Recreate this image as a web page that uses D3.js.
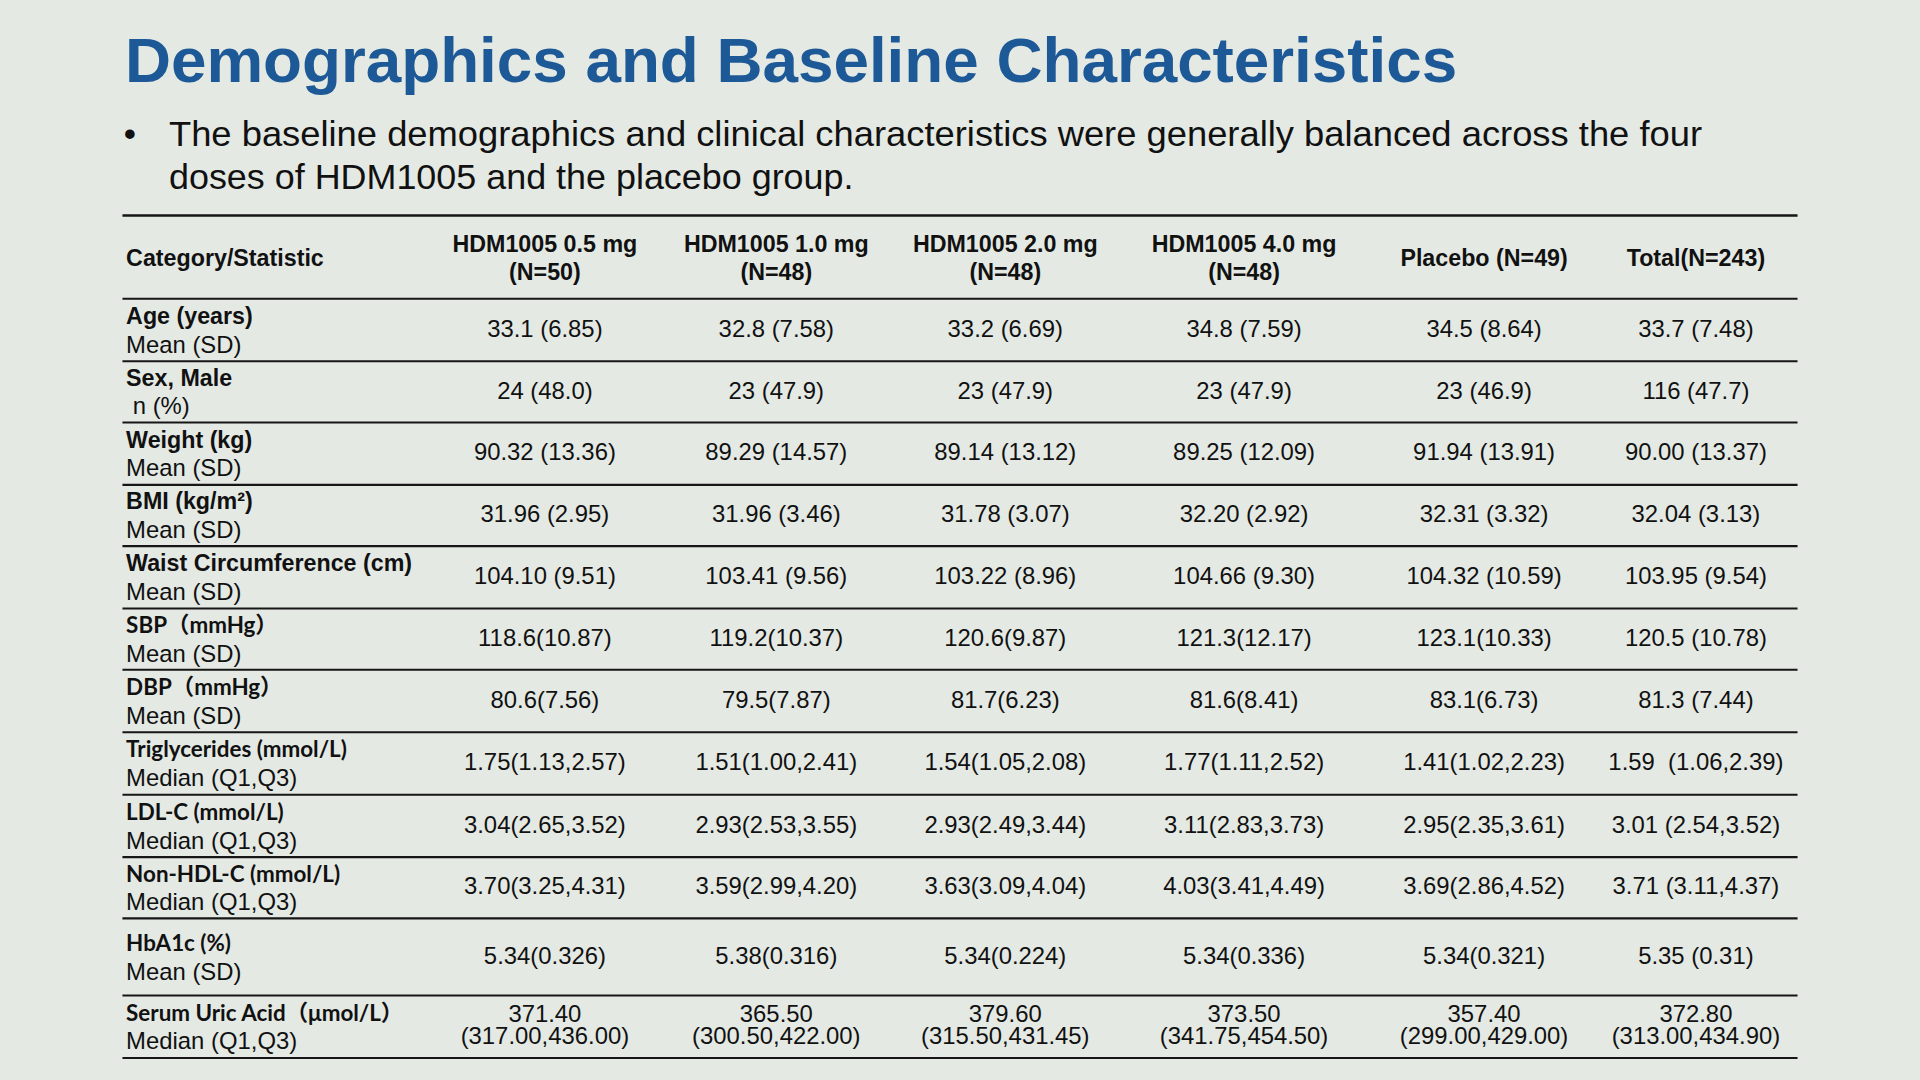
<!DOCTYPE html>
<html>
<head>
<meta charset="utf-8">
<script src="https://cdn.jsdelivr.net/npm/d3@7/dist/d3.min.js"></script>
<style>
  html, body { margin: 0; padding: 0; background: #e4e9e4; overflow: hidden; }
  svg { display: block; }
</style>
</head>
<body>
<div id="slide"></div>
<script>
// Textos
const titleText = "Demographics and Baseline Characteristics"
const bulletLines = [
  "The baseline demographics and clinical characteristics were generally balanced across the four",
  "doses of HDM1005 and the placebo group."
]
const headerLabel = "Category/Statistic"

// Columnas (grupos)
const groups = [
  ["HDM1005 0.5 mg", "(N=50)"],
  ["HDM1005 1.0 mg", "(N=48)"],
  ["HDM1005 2.0 mg", "(N=48)"],
  ["HDM1005 4.0 mg", "(N=48)"],
  ["Placebo (N=49)"],
  ["Total(N=243)"]
]

// Filas
const categories = [
  "Age (years)", "Sex, Male", "Weight (kg)", "BMI (kg/m²)", "Waist Circumference (cm)",
  "SBP（mmHg）", "DBP（mmHg）", "Triglycerides (mmol/L)", "LDL-C (mmol/L)",
  "Non-HDL-C (mmol/L)", "HbA1c (%)", "Serum Uric Acid（μmol/L）"
]
const statistics = [
  "Mean (SD)", "\u00a0n (%)", "Mean (SD)", "Mean (SD)", "Mean (SD)", "Mean (SD)",
  "Mean (SD)", "Median (Q1,Q3)", "Median (Q1,Q3)", "Median (Q1,Q3)", "Mean (SD)", "Median (Q1,Q3)"
]

// Valores por grupo
const dose05 = ["33.1 (6.85)", "24 (48.0)", "90.32 (13.36)", "31.96 (2.95)", "104.10 (9.51)", "118.6(10.87)",
  "80.6(7.56)", "1.75(1.13,2.57)", "3.04(2.65,3.52)", "3.70(3.25,4.31)", "5.34(0.326)", "371.40\n(317.00,436.00)"]
const dose10 = ["32.8 (7.58)", "23 (47.9)", "89.29 (14.57)", "31.96 (3.46)", "103.41 (9.56)", "119.2(10.37)",
  "79.5(7.87)", "1.51(1.00,2.41)", "2.93(2.53,3.55)", "3.59(2.99,4.20)", "5.38(0.316)", "365.50\n(300.50,422.00)"]
const dose20 = ["33.2 (6.69)", "23 (47.9)", "89.14 (13.12)", "31.78 (3.07)", "103.22 (8.96)", "120.6(9.87)",
  "81.7(6.23)", "1.54(1.05,2.08)", "2.93(2.49,3.44)", "3.63(3.09,4.04)", "5.34(0.224)", "379.60\n(315.50,431.45)"]
const dose40 = ["34.8 (7.59)", "23 (47.9)", "89.25 (12.09)", "32.20 (2.92)", "104.66 (9.30)", "121.3(12.17)",
  "81.6(8.41)", "1.77(1.11,2.52)", "3.11(2.83,3.73)", "4.03(3.41,4.49)", "5.34(0.336)", "373.50\n(341.75,454.50)"]
const placebo = ["34.5 (8.64)", "23 (46.9)", "91.94 (13.91)", "32.31 (3.32)", "104.32 (10.59)", "123.1(10.33)",
  "83.1(6.73)", "1.41(1.02,2.23)", "2.95(2.35,3.61)", "3.69(2.86,4.52)", "5.34(0.321)", "357.40\n(299.00,429.00)"]
const total = ["33.7 (7.48)", "116 (47.7)", "90.00 (13.37)", "32.04 (3.13)", "103.95 (9.54)", "120.5 (10.78)",
  "81.3 (7.44)", "1.59\u00a0 (1.06,2.39)", "3.01 (2.54,3.52)", "3.71 (3.11,4.37)", "5.35 (0.31)", "372.80\n(313.00,434.90)"]

const seriesValues = [dose05, dose10, dose20, dose40, placebo, total]

// Filas con etiqueta en otra fuente (tipo Calibri)
const altFontRows = new Set(categories.slice(5))

// Layout
const W = 1568, H = 882
const left = 100, right = 1468
const rowEdges = [244, 295, 345, 396, 446, 497, 547, 598, 649, 700, 750, 813, 864]
const sans = "'Liberation Sans', Arial, sans-serif"
const altSans = "Lato, 'Noto Sans', 'Noto Sans CJK SC', sans-serif"

const svg = d3.select("#slide")
  .append("svg")
  .attr("width", 1920)
  .attr("height", 1080)
  .attr("viewBox", `0 0 ${W} ${H}`)

svg.append("rect").attr("width", W).attr("height", H).attr("fill", "#e4e9e4")

// Titulo
svg.append("text")
  .attr("x", 102).attr("y", 67)
  .attr("font-family", sans).attr("font-weight", "bold").attr("font-size", 51)
  .attr("fill", "#1c5996")
  .attr("textLength", 1088).attr("lengthAdjust", "spacingAndGlyphs")
  .text(titleText)

// Bullet
svg.append("text")
  .attr("x", 101).attr("y", 119)
  .attr("font-family", sans).attr("font-size", 28.5).attr("fill", "#111")
  .text("•")

svg.selectAll("text.bullet")
  .data(bulletLines)
  .join("text")
  .attr("class", "bullet")
  .attr("x", 138)
  .attr("y", (d, i) => 119 + i * 35)
  .attr("font-family", sans).attr("font-size", 28.5).attr("fill", "#111")
  .attr("textLength", (d, i) => [1252, 559][i]).attr("lengthAdjust", "spacingAndGlyphs")
  .text((d) => d)

// Escaladores
const colX = d3.scaleOrdinal()
  .domain(d3.range(groups.length))
  .range([445, 634, 821, 1016, 1212, 1385])

const rowTop = d3.scaleOrdinal().domain(d3.range(categories.length)).range(rowEdges.slice(0, -1))
const rowH = (i) => rowEdges[i + 1] - rowEdges[i]

// Reglas
const rules = [176].concat(rowEdges)
svg.append("g")
  .selectAll("line")
  .data(rules)
  .join("line")
  .attr("x1", left).attr("x2", right)
  .attr("y1", (d) => d).attr("y2", (d) => d)
  .attr("stroke", "#161616")
  .attr("stroke-width", (d, i) => (i === 0 ? 2 : 1.7))

// Encabezado
const header = svg.append("g").attr("fill", "#111")
  .attr("font-family", sans).attr("font-weight", "bold").attr("font-size", 19)

header.append("text").attr("x", 103).attr("y", 217).text(headerLabel)

header.selectAll("text.col")
  .data(groups)
  .join("text")
  .attr("class", "col")
  .attr("text-anchor", "middle")
  .attr("y", (d) => (d.length > 1 ? 205.5 : 217))
  .each(function (d, i) {
    d3.select(this).selectAll("tspan")
      .data(d)
      .join("tspan")
      .attr("x", colX(i))
      .attr("dy", (t, j) => (j === 0 ? 0 : 23))
      .text((t) => t)
  })

// Etiquetas de fila
const labels = svg.append("g").attr("fill", "#111")

labels.selectAll("text.cat")
  .data(categories)
  .join("text")
  .attr("class", "cat")
  .attr("x", 103)
  .attr("y", (d, i) => rowTop(i) + 20.5 + (rowH(i) - 51) / 2)
  .attr("font-family", (d) => (altFontRows.has(d) ? altSans : sans))
  .attr("font-weight", "bold")
  .attr("font-size", (d) => (altFontRows.has(d) ? 18.3 : 19))
  .text((d) => d)

labels.selectAll("text.stat")
  .data(statistics)
  .join("text")
  .attr("class", "stat")
  .attr("x", 103)
  .attr("y", (d, i) => rowTop(i) + 44 + (rowH(i) - 51) / 2)
  .attr("font-family", sans).attr("font-size", 19.5)
  .text((d) => d)

// Celdas
const cells = svg.append("g").attr("fill", "#111")
  .attr("font-family", sans).attr("font-size", 19.5)
  .attr("text-anchor", "middle")

seriesValues.forEach((serie, c) => {
  cells.selectAll(null)
    .data(serie)
    .join("text")
    .attr("y", (d, i) => {
      const mid = rowTop(i) + rowH(i) / 2
      const n = d.split("\n").length
      return mid + 5.5 - (n - 1) * 9
    })
    .each(function (d) {
      d3.select(this).selectAll("tspan")
        .data(d.split("\n"))
        .join("tspan")
        .attr("x", colX(c))
        .attr("dy", (t, j) => (j === 0 ? 0 : 18))
        .text((t) => t)
    })
})
</script>
</body>
</html>
